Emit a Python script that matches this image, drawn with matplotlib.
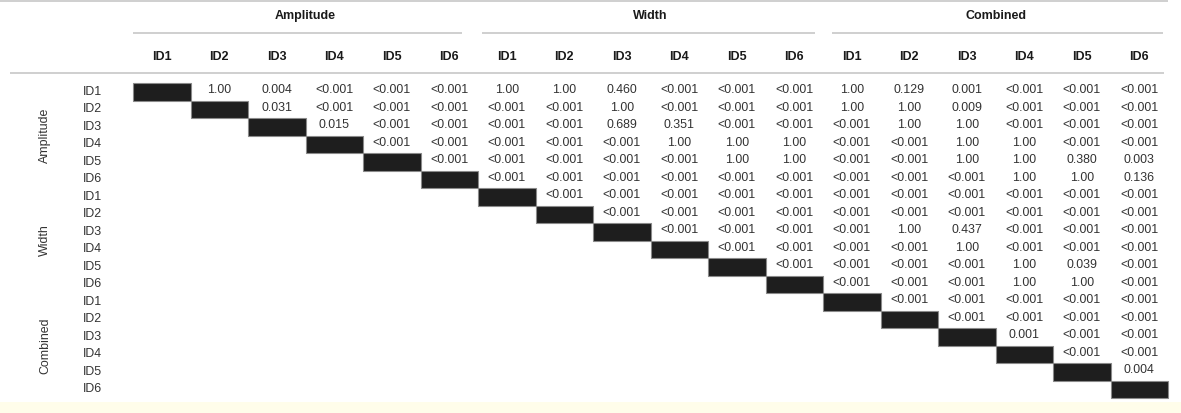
import matplotlib
matplotlib.use("Agg")
import matplotlib.pyplot as plt

plt.rcParams['font.family'] = ['Liberation Sans', 'DejaVu Sans']

groups = ["Amplitude", "Width", "Combined"]
ids = ["ID1", "ID2", "ID3", "ID4", "ID5", "ID6"]

# upper-triangle p-values, each row lists the cells to the right of the diagonal
amplitude_rows = [
    ["1.00", "0.004", "<0.001", "<0.001", "<0.001",
     "1.00", "1.00", "0.460", "<0.001", "<0.001", "<0.001",
     "1.00", "0.129", "0.001", "<0.001", "<0.001", "<0.001"],
    ["0.031", "<0.001", "<0.001", "<0.001",
     "<0.001", "<0.001", "1.00", "<0.001", "<0.001", "<0.001",
     "1.00", "1.00", "0.009", "<0.001", "<0.001", "<0.001"],
    ["0.015", "<0.001", "<0.001",
     "<0.001", "<0.001", "0.689", "0.351", "<0.001", "<0.001",
     "<0.001", "1.00", "1.00", "<0.001", "<0.001", "<0.001"],
    ["<0.001", "<0.001",
     "<0.001", "<0.001", "<0.001", "1.00", "1.00", "1.00",
     "<0.001", "<0.001", "1.00", "1.00", "<0.001", "<0.001"],
    ["<0.001",
     "<0.001", "<0.001", "<0.001", "<0.001", "1.00", "1.00",
     "<0.001", "<0.001", "1.00", "1.00", "0.380", "0.003"],
    ["<0.001", "<0.001", "<0.001", "<0.001", "<0.001", "<0.001",
     "<0.001", "<0.001", "<0.001", "1.00", "1.00", "0.136"],
]
width_rows = [
    ["<0.001", "<0.001", "<0.001", "<0.001", "<0.001",
     "<0.001", "<0.001", "<0.001", "<0.001", "<0.001", "<0.001"],
    ["<0.001", "<0.001", "<0.001", "<0.001",
     "<0.001", "<0.001", "<0.001", "<0.001", "<0.001", "<0.001"],
    ["<0.001", "<0.001", "<0.001",
     "<0.001", "1.00", "0.437", "<0.001", "<0.001", "<0.001"],
    ["<0.001", "<0.001",
     "<0.001", "<0.001", "1.00", "<0.001", "<0.001", "<0.001"],
    ["<0.001",
     "<0.001", "<0.001", "<0.001", "1.00", "0.039", "<0.001"],
    ["<0.001", "<0.001", "<0.001", "1.00", "1.00", "<0.001"],
]
combined_rows = [
    ["<0.001", "<0.001", "<0.001", "<0.001", "<0.001"],
    ["<0.001", "<0.001", "<0.001", "<0.001"],
    ["0.001", "<0.001", "<0.001"],
    ["<0.001", "<0.001"],
    ["0.004"],
    [],
]

all_rows = amplitude_rows + width_rows + combined_rows
n = len(all_rows)

W, H = 1181, 413
fig = plt.figure(figsize=(W / 100, H / 100), dpi=100)
ax = fig.add_axes([0, 0, 1, 1])
colw, rowh = 57.5, 17.5
x0, y0 = 133, 83
ax.set_xlim(-x0 / colw, (W - x0) / colw)
ax.set_ylim((H - y0) / rowh, -y0 / rowh)
ax.axis("off")

line_c = "#cccccc"
txt_c = "#333333"
hdr_c = "#1a1a1a"
fs = 8.9
hfs = 9.0

def py(p):
    return (p - y0) / rowh

def px(p):
    return (p - x0) / colw

# bottom light strip
ax.axhspan(py(402), py(H), color="#fffdea", lw=0, zorder=0)

# rules
ax.plot([px(0), px(1168)], [py(1.2), py(1.2)], color=line_c, lw=1.3, solid_capstyle="butt")
ax.plot([px(10), px(1164)], [py(73), py(73)], color=line_c, lw=1.3, solid_capstyle="butt")
grp_spans = [(px(133), px(462)), (px(482), px(815)), (px(832), px(1163))]
for (a, b) in grp_spans:
    ax.plot([a, b], [py(33), py(33)], color=line_c, lw=1.3, solid_capstyle="butt")

# group headers
for g, name in enumerate(groups):
    ax.text(g * 6 + 3, py(16), name, ha="center", va="center",
            fontsize=hfs, fontweight="bold", color=hdr_c)
    ax.text(px(45), g * 6 + 3, name, ha="center", va="center",
            fontsize=fs, rotation=90, color=txt_c)
    for k, lab in enumerate(ids):
        ax.text(g * 6 + k + 0.5, py(57), lab, ha="center", va="center",
                fontsize=hfs, fontweight="bold", color=hdr_c)
        ax.text(px(83), g * 6 + k + 0.5, lab, ha="left", va="center",
                fontsize=fs, color=txt_c)

# diagonal blocks
diag = list(range(n))
ax.bar(diag, [1] * n, bottom=diag, width=1, align="edge",
       color="#1e1e1e", edgecolor="#8a8a8a", linewidth=0.8, zorder=2)

# values
for i, row in enumerate(all_rows):
    for k, v in enumerate(row):
        j = i + 1 + k
        ax.text(j + 0.5, i + 0.42, v, ha="center", va="center",
                fontsize=fs, color=txt_c)

fig.savefig("out.png", dpi=100)
